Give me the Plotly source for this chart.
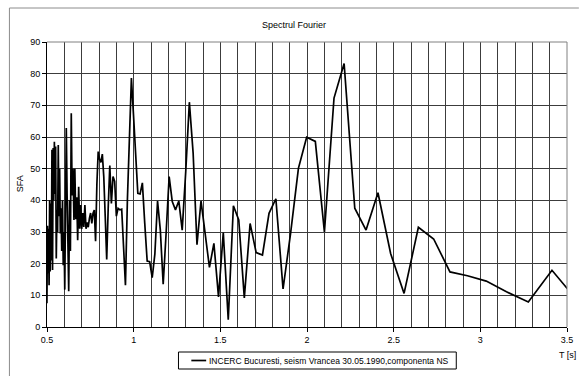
import plotly.graph_objects as go

# Period T [s] (points of the Fourier spectrum)
T = [0.4995, 0.5026, 0.5057, 0.5088, 0.5120, 0.5152, 0.5185, 0.5218, 0.5251, 0.5285,
     0.5320, 0.5354, 0.5389, 0.5425, 0.5461, 0.5498, 0.5535, 0.5573, 0.5611, 0.5650,
     0.5689, 0.5729, 0.5769, 0.5810, 0.5851, 0.5894, 0.5936, 0.5980, 0.6024, 0.6068,
     0.6113, 0.6159, 0.6206, 0.6253, 0.6302, 0.6350, 0.6400, 0.6450, 0.6502, 0.6554,
     0.6606, 0.6660, 0.6715, 0.6770, 0.6827, 0.6884, 0.6942, 0.7002, 0.7062, 0.7123,
     0.7186, 0.7250, 0.7314, 0.7380, 0.7447, 0.7516, 0.7585, 0.7656, 0.7728, 0.7802,
     0.7877, 0.7953, 0.8031, 0.8111, 0.8192, 0.8275, 0.8359, 0.8445, 0.8533, 0.8623,
     0.8715, 0.8809, 0.8904, 0.9002, 0.9102, 0.9204, 0.9309, 0.9416, 0.9526, 0.9638,
     0.9752, 0.9870, 0.9990, 1.0114, 1.0240, 1.0370, 1.0502, 1.0639, 1.0779, 1.0923,
     1.1070, 1.1222, 1.1378, 1.1538, 1.1703, 1.1872, 1.2047, 1.2227, 1.2412, 1.2603,
     1.2800, 1.3003, 1.3213, 1.3430, 1.3653, 1.3885, 1.4124, 1.4372, 1.4629, 1.4895,
     1.5170, 1.5457, 1.5754, 1.6063, 1.6384, 1.6718, 1.7067, 1.7430, 1.7809, 1.8204,
     1.8618, 1.9051, 1.9505, 1.9980, 2.0480, 2.1005, 2.1558, 2.2141, 2.2756, 2.3406,
     2.4094, 2.4824, 2.5600, 2.6426, 2.7307, 2.8248, 2.9257, 3.0341, 3.1508, 3.2768,
     3.4133, 3.5617]

# Spectral Fourier amplitude (SFA)
SFA = [7.5, 32, 17, 31, 13.2, 40, 17.5, 39, 21, 56,
       18, 56.5, 40, 58.5, 42, 57, 21.6, 37, 30, 57.5,
       35, 50, 29.5, 37.5, 24, 40, 19.5, 30, 11.8, 40,
       62.8, 42, 24, 11.3, 40, 24, 67.5, 41.5, 50, 33.8,
       50, 34, 41, 27.4, 44.3, 31, 38.5, 31, 36, 31.6,
       38.5, 31, 33, 31.5, 34.3, 36, 32.7, 35.9, 36.9, 27.1,
       45, 55.4, 53, 52, 54.6, 47.5, 35, 21.3, 38, 51,
       39, 47.5, 46, 35, 37.5, 37, 37.2, 27, 13.2, 40,
       62, 78.6, 67, 55, 42.2, 42, 45.5, 32.8, 20.8, 20.6,
       15.6, 23, 39.8, 30.6, 13.5, 29.6, 47.5, 39.6, 37, 39.8,
       30.6, 49, 71, 55, 26, 39.8, 29, 18.8, 26.4, 9.5,
       29.8, 2.3, 38.3, 33.8, 9.2, 32.7, 23.5, 22.7, 35.9, 40.5,
       12, 29.5, 50.1, 59.9, 58.6, 30, 72.3, 83.2, 37.5, 30.6,
       42.4, 23.2, 10.6, 31.5, 27.8, 17.4, 16.2, 14.5, 11.1, 7.9,
       17.9, 8.2]

title_text = "Spectrul Fourier"
legend_text = "INCERC Bucuresti, seism Vrancea 30.05.1990,componenta NS"
x_title = "T [s]"
y_title = "SFA"

FONT = "Liberation Sans, Arial, sans-serif"
W, H = 582, 376
ML, MR, MT, MB = 47, 9, 42, 49
PW, PH = W - ML - MR, H - MT - MB


def px2x(px):
    return (px - ML) / PW


def py2y(py):
    return (H - MB - py) / PH


fig = go.Figure()
fig.add_trace(go.Scatter(x=T, y=SFA, mode="lines",
                         line=dict(color="black", width=1.7),
                         name=legend_text, showlegend=False))

grid = "#3c3c3c"
fig.update_layout(
    width=W, height=H,
    margin=dict(l=ML, r=MR, t=MT, b=MB),
    paper_bgcolor="white", plot_bgcolor="white",
    font=dict(family=FONT, size=9, color="black"),
    xaxis=dict(range=[0.5, 3.5], tick0=0.5, dtick=0.5, showgrid=True,
               gridcolor=grid, gridwidth=1,
               minor=dict(dtick=0.1, tick0=0.5, showgrid=True, gridcolor=grid, gridwidth=1),
               ticks="outside", ticklen=4, tickcolor="black",
               showline=True, linecolor="black", linewidth=1, zeroline=False,
               tickfont=dict(family=FONT, size=9)),
    yaxis=dict(range=[0, 90], dtick=10, showgrid=True, gridcolor=grid, gridwidth=1,
               ticks="outside", ticklen=4, tickcolor="black",
               showline=True, linecolor="black", linewidth=1, zeroline=False,
               tickfont=dict(family=FONT, size=9)),
    showlegend=False,
)

shapes = []
# outer chart frame (left and top edges visible)
shapes.append(dict(type="line", xref="paper", yref="paper",
                   x0=px2x(9), y0=py2y(8), x1=px2x(9), y1=py2y(380),
                   line=dict(color="#8c8c8c", width=1)))
shapes.append(dict(type="line", xref="paper", yref="paper",
                   x0=px2x(9), y0=py2y(8), x1=px2x(585), y1=py2y(8),
                   line=dict(color="#8c8c8c", width=1)))
# plot area right/top border
shapes.append(dict(type="line", xref="paper", yref="paper", x0=1, y0=0, x1=1, y1=1,
                   line=dict(color="#808080", width=1)))
shapes.append(dict(type="line", xref="paper", yref="paper", x0=0, y0=1, x1=1, y1=1,
                   line=dict(color="#808080", width=1)))
# legend box
shapes.append(dict(type="rect", xref="paper", yref="paper",
                   x0=px2x(180), y0=py2y(369), x1=px2x(461), y1=py2y(352),
                   line=dict(color="black", width=1), fillcolor="white"))
shapes.append(dict(type="line", xref="paper", yref="paper",
                   x0=px2x(193), y0=py2y(360.5), x1=px2x(208), y1=py2y(360.5),
                   line=dict(color="black", width=1.7)))
fig.update_layout(shapes=shapes)

ann = [
    dict(text=title_text, x=px2x(297), y=py2y(25), xref="paper", yref="paper",
         showarrow=False, font=dict(size=9), xanchor="center", yanchor="middle"),
    dict(text=y_title, x=px2x(20), y=py2y(184), xref="paper", yref="paper",
         showarrow=False, textangle=-90, font=dict(size=9), xanchor="center", yanchor="middle"),
    dict(text=x_title, x=px2x(573), y=py2y(355), xref="paper", yref="paper",
         showarrow=False, font=dict(size=9), xanchor="center", yanchor="middle"),
    dict(text=legend_text, x=px2x(209), y=py2y(360.5), xref="paper", yref="paper",
         showarrow=False, font=dict(size=8.5), xanchor="left", yanchor="middle"),
]
fig.update_layout(annotations=ann)

fig.write_html("out.html")
